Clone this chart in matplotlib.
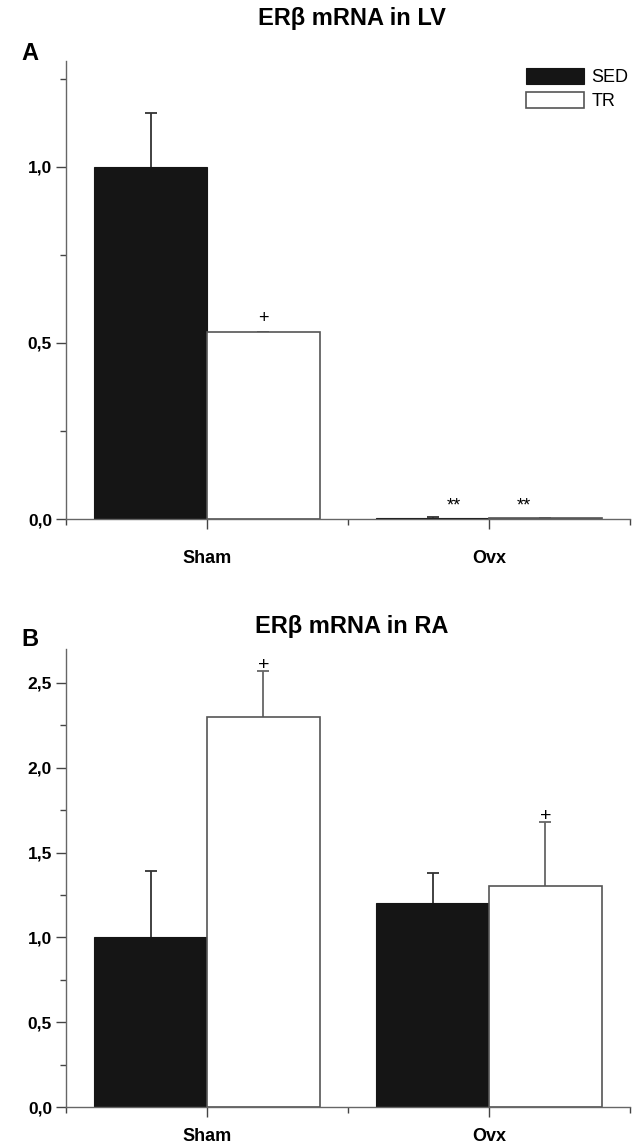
import matplotlib
matplotlib.use("Agg")
import matplotlib.pyplot as plt
from matplotlib.ticker import FixedLocator, FuncFormatter

plt.rcParams['font.family'] = ['Liberation Sans', 'DejaVu Sans']

groups = ['Sham', 'Ovx']
series = ['SED', 'TR']

# panel A: ER beta mRNA in LV
lv_sed = [1.0, 0.003]
lv_sed_err = [0.153, 0.002]
lv_tr = [0.53, 0.003]
lv_tr_err = [0.0, 0.001]

# panel B: ER beta mRNA in RA
ra_sed = [1.0, 1.20]
ra_sed_err = [0.39, 0.18]
ra_tr = [2.30, 1.30]
ra_tr_err = [0.27, 0.38]

W, H = 640, 1148
fig = plt.figure(figsize=(W / 100, H / 100), dpi=100)


def px_axes(left, right, top, bottom):
    return fig.add_axes([left / W, 1 - bottom / H, (right - left) / W, (bottom - top) / H])


def comma(v, pos):
    return f'{v:.1f}'.replace('.', ',')


def panel(ax, sed, sed_err, tr, tr_err, ymax, major, minor, xpad):
    centers = [1, 3]
    bw = 0.8
    xs = [c - bw / 2 for c in centers]
    xt = [c + bw / 2 for c in centers]
    ax.bar(xs, sed, width=bw, color='#151515', edgecolor='#151515', lw=0.8, zorder=2)
    ax.bar(xt, tr, width=bw, color='white', edgecolor='#555555', lw=1.2, zorder=2)
    for x, v, e, c in [(xs, sed, sed_err, '#333333'), (xt, tr, tr_err, '#666666')]:
        eb = ax.errorbar(x, v, yerr=[[0, 0], e], fmt='none', ecolor=c,
                         elinewidth=1.3, capsize=4, capthick=1.3, zorder=1)
        eb[1][0].set_visible(False)
    ax.set_xlim(0, 4)
    ax.set_ylim(0, ymax)
    for s in ['top', 'right']:
        ax.spines[s].set_visible(False)
    for s in ['left', 'bottom']:
        ax.spines[s].set_color('#666666')
        ax.spines[s].set_linewidth(1.0)
    ax.yaxis.set_major_locator(FixedLocator(major))
    ax.yaxis.set_minor_locator(FixedLocator(minor))
    ax.yaxis.set_major_formatter(FuncFormatter(comma))
    ax.xaxis.set_major_locator(FixedLocator(centers))
    ax.xaxis.set_minor_locator(FixedLocator([0, 2, 4]))
    ax.set_xticklabels(groups, fontsize=13, fontweight='bold')
    ax.tick_params(axis='y', which='major', length=7, width=1, color='#444444',
                   labelsize=12.5, pad=3)
    ax.tick_params(axis='y', which='minor', length=4, width=1, color='#444444')
    ax.tick_params(axis='x', which='major', length=7, width=1, color='#444444', pad=xpad)
    ax.tick_params(axis='x', which='minor', length=4, width=1, color='#444444')
    for lab in ax.get_yticklabels():
        lab.set_fontweight('bold')
    return xs, xt


axA = px_axes(66, 630, 61, 519)
xs, xt = panel(axA, lv_sed, lv_sed_err, lv_tr, lv_tr_err, 1.30,
               [0, 0.5, 1.0], [0.25, 0.75, 1.25], 15)
axA.text(xt[0], lv_tr[0] + 0.015, '+', ha='center', va='bottom', fontsize=13)
axA.text(2.75, 0.012, '**', ha='center', va='bottom', fontsize=13)
axA.text(3.25, 0.012, '**', ha='center', va='bottom', fontsize=13)
hs = axA.patches
axA.legend([hs[0], hs[2]], series, loc='upper right', frameon=False,
           bbox_to_anchor=(1.01, 1.0), handlelength=3.2, handleheight=1.0,
           handletextpad=0.4, labelspacing=0.3, fontsize=13, borderaxespad=0.0)

axB = px_axes(66, 630, 649, 1107)
xs, xt = panel(axB, ra_sed, ra_sed_err, ra_tr, ra_tr_err, 2.70,
               [0, 0.5, 1.0, 1.5, 2.0, 2.5], [0.25, 0.75, 1.25, 1.75, 2.25], 8)
for i in range(2):
    axB.text(xt[i], ra_tr[i] + ra_tr_err[i] - 0.02, '+', ha='center', va='bottom',
             fontsize=14)

fig.text(352 / W, 1 - 19 / H, 'ER\u03b2 mRNA in LV', ha='center', va='center',
         fontsize=17, fontweight='bold')
fig.text(352 / W, 1 - 627 / H, 'ER\u03b2 mRNA in RA', ha='center', va='center',
         fontsize=17, fontweight='bold')
fig.text(30 / W, 1 - 54 / H, 'A', ha='center', va='center', fontsize=17, fontweight='bold')
fig.text(30 / W, 1 - 640 / H, 'B', ha='center', va='center', fontsize=17, fontweight='bold')

fig.savefig('out.png', dpi=100)
